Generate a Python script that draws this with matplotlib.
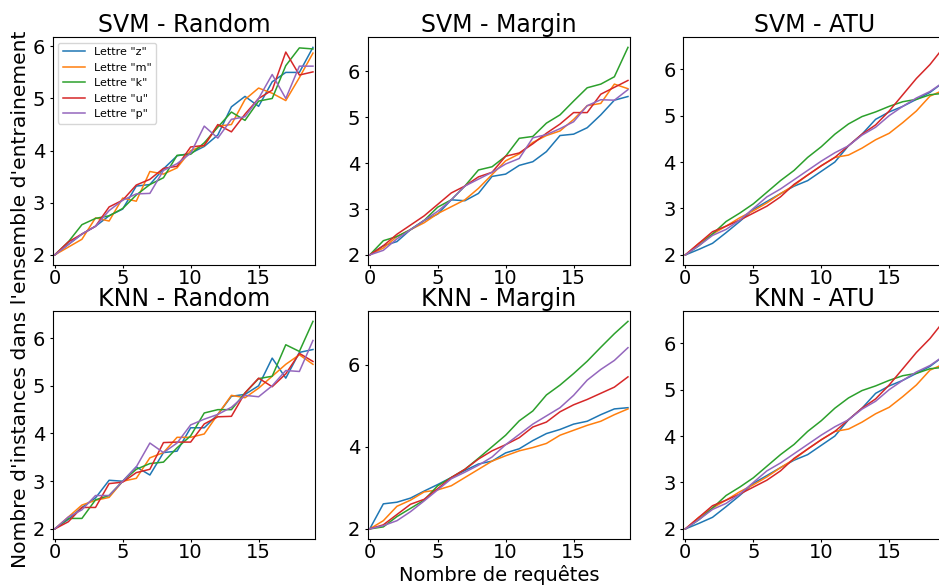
import matplotlib
matplotlib.use("Agg")
import matplotlib.pyplot as plt

requetes = list(range(20))
lettres = ['Lettre "z"', 'Lettre "m"', 'Lettre "k"', 'Lettre "u"', 'Lettre "p"']

# SVM - Random
svm_random_z = [2.0, 2.2, 2.4, 2.55, 2.75, 2.88, 3.32, 3.35, 3.65, 3.9, 3.95, 4.08, 4.3, 4.84, 5.04, 4.85, 5.32, 5.5, 5.5, 5.98]
svm_random_m = [2.0, 2.15, 2.3, 2.71, 2.65, 3.09, 3.03, 3.6, 3.55, 3.67, 4.0, 4.1, 4.47, 4.5, 4.98, 5.2, 5.1, 4.96, 5.4, 5.87]
svm_random_k = [2.0, 2.25, 2.58, 2.7, 2.75, 2.89, 3.15, 3.35, 3.48, 3.91, 3.93, 4.15, 4.45, 4.74, 4.58, 4.95, 5.0, 5.63, 5.97, 5.95]
svm_random_u = [2.0, 2.25, 2.4, 2.55, 2.92, 3.05, 3.34, 3.45, 3.66, 3.7, 4.07, 4.1, 4.5, 4.36, 4.7, 5.0, 5.16, 5.89, 5.45, 5.51]
svm_random_p = [2.0, 2.2, 2.4, 2.55, 2.85, 3.05, 3.17, 3.18, 3.62, 3.75, 3.95, 4.47, 4.24, 4.6, 4.65, 5.0, 5.46, 5.0, 5.62, 5.62]

# SVM - Margin
svm_margin_z = [2.0, 2.2, 2.29, 2.55, 2.75, 2.89, 3.2, 3.18, 3.34, 3.71, 3.76, 3.95, 4.03, 4.25, 4.6, 4.63, 4.77, 5.05, 5.37, 5.45]
svm_margin_m = [2.0, 2.15, 2.4, 2.55, 2.7, 2.9, 3.05, 3.2, 3.45, 3.75, 4.05, 4.2, 4.45, 4.6, 4.7, 4.95, 5.25, 5.3, 5.72, 5.62]
svm_margin_k = [2.0, 2.31, 2.4, 2.55, 2.75, 3.04, 3.2, 3.5, 3.85, 3.92, 4.15, 4.54, 4.58, 4.87, 5.05, 5.35, 5.64, 5.72, 5.88, 6.52]
svm_margin_u = [2.0, 2.2, 2.45, 2.65, 2.85, 3.1, 3.35, 3.5, 3.7, 3.8, 4.15, 4.22, 4.42, 4.65, 4.85, 5.1, 5.1, 5.5, 5.65, 5.8]
svm_margin_p = [2.0, 2.1, 2.35, 2.55, 2.75, 2.95, 3.2, 3.5, 3.65, 3.8, 3.98, 4.1, 4.55, 4.62, 4.75, 4.9, 5.25, 5.38, 5.37, 5.6]

# ATU (identique pour SVM et KNN)
atu_z = [2.0, 2.12, 2.25, 2.48, 2.72, 2.98, 3.15, 3.32, 3.48, 3.6, 3.8, 4.0, 4.35, 4.6, 4.92, 5.08, 5.2, 5.35, 5.5, 5.72]
atu_m = [2.0, 2.25, 2.45, 2.62, 2.8, 2.95, 3.12, 3.32, 3.5, 3.72, 3.92, 4.1, 4.15, 4.3, 4.48, 4.62, 4.85, 5.1, 5.42, 5.55]
atu_k = [2.0, 2.2, 2.45, 2.72, 2.9, 3.1, 3.35, 3.6, 3.82, 4.1, 4.33, 4.6, 4.82, 4.98, 5.08, 5.2, 5.3, 5.35, 5.45, 5.48]
atu_u = [2.0, 2.25, 2.5, 2.62, 2.75, 2.9, 3.05, 3.25, 3.52, 3.72, 3.92, 4.1, 4.35, 4.6, 4.8, 5.1, 5.45, 5.8, 6.1, 6.47]
atu_p = [2.0, 2.2, 2.42, 2.55, 2.75, 3.0, 3.25, 3.42, 3.62, 3.82, 4.02, 4.2, 4.35, 4.58, 4.75, 5.0, 5.2, 5.38, 5.52, 5.72]

# KNN - Random
knn_random_z = [2.0, 2.2, 2.45, 2.65, 3.02, 3.0, 3.3, 3.13, 3.6, 3.63, 4.12, 4.12, 4.4, 4.78, 4.82, 5.0, 5.58, 5.16, 5.7, 5.76]
knn_random_m = [2.0, 2.25, 2.5, 2.6, 2.66, 3.0, 3.06, 3.49, 3.6, 3.92, 3.92, 3.99, 4.4, 4.8, 4.75, 4.95, 5.2, 5.45, 5.65, 5.45]
knn_random_k = [2.0, 2.22, 2.22, 2.61, 2.7, 3.0, 3.25, 3.37, 3.4, 3.7, 3.95, 4.43, 4.5, 4.5, 4.85, 5.15, 5.2, 5.86, 5.72, 6.35]
knn_random_u = [2.0, 2.15, 2.45, 2.45, 2.95, 2.98, 3.18, 3.25, 3.81, 3.82, 3.82, 4.2, 4.35, 4.36, 4.85, 5.16, 4.98, 5.25, 5.68, 5.51]
knn_random_p = [2.0, 2.25, 2.4, 2.7, 2.7, 3.0, 3.3, 3.8, 3.6, 3.8, 4.18, 4.3, 4.4, 4.55, 4.8, 4.77, 5.0, 5.32, 5.3, 5.95]

# KNN - Margin
knn_margin_z = [2.0, 2.61, 2.65, 2.75, 2.92, 3.08, 3.25, 3.42, 3.58, 3.65, 3.85, 3.95, 4.15, 4.32, 4.42, 4.55, 4.62, 4.78, 4.92, 4.95]
knn_margin_m = [2.0, 2.2, 2.55, 2.7, 2.9, 2.95, 3.05, 3.25, 3.45, 3.65, 3.78, 3.9, 3.98, 4.08, 4.28, 4.4, 4.52, 4.62, 4.78, 4.92]
knn_margin_k = [2.0, 2.05, 2.3, 2.5, 2.7, 3.05, 3.25, 3.45, 3.72, 4.0, 4.28, 4.63, 4.87, 5.26, 5.5, 5.78, 6.08, 6.42, 6.75, 7.05]
knn_margin_u = [2.0, 2.1, 2.35, 2.6, 2.72, 2.98, 3.25, 3.45, 3.7, 3.9, 4.05, 4.22, 4.48, 4.6, 4.85, 5.02, 5.15, 5.3, 5.45, 5.7]
knn_margin_p = [2.0, 2.08, 2.2, 2.42, 2.68, 2.95, 3.22, 3.38, 3.55, 3.75, 4.05, 4.3, 4.55, 4.75, 4.95, 5.25, 5.62, 5.88, 6.1, 6.41]

panels = [
    ("SVM - Random", [svm_random_z, svm_random_m, svm_random_k, svm_random_u, svm_random_p]),
    ("SVM - Margin", [svm_margin_z, svm_margin_m, svm_margin_k, svm_margin_u, svm_margin_p]),
    ("SVM - ATU", [atu_z, atu_m, atu_k, atu_u, atu_p]),
    ("KNN - Random", [knn_random_z, knn_random_m, knn_random_k, knn_random_u, knn_random_p]),
    ("KNN - Margin", [knn_margin_z, knn_margin_m, knn_margin_k, knn_margin_u, knn_margin_p]),
    ("KNN - ATU", [atu_z, atu_m, atu_k, atu_u, atu_p]),
]

W, H = 939, 586
fig = plt.figure(figsize=(W / 100, H / 100), dpi=100)

# positions des axes en pixels (la colonne de droite depasse un peu)
lefts = [52.7, 367.7, 683.3]
tops = [37, 311]
aw, ah = 262.3, 228.3

axes = []
for i, (titre, series) in enumerate(panels):
    r, c = divmod(i, 3)
    ax = fig.add_axes([lefts[c] / W, 1 - (tops[r] + ah) / H, aw / W, ah / H])
    for s, lab in zip(series, lettres):
        ax.plot(requetes, s, label=lab, linewidth=1.1)
    ax.set_title(titre, fontsize=17, pad=3)
    ax.set_xlim(-0.15, 19.15)
    ax.tick_params(axis='both', labelsize=14, length=2)
    ax.tick_params(axis='x', pad=1)
    axes.append(ax)

axes[0].legend(loc='upper left', fontsize=8)
axes[4].set_xlabel("Nombre de requêtes", fontsize=14, labelpad=2)
fig.text(0.022, 0.489, "Nombre d'instances dans l'ensemble d'entrainement",
         rotation='vertical', ha='center', va='center', fontsize=14.6)

plt.savefig('out.png', dpi=100)
